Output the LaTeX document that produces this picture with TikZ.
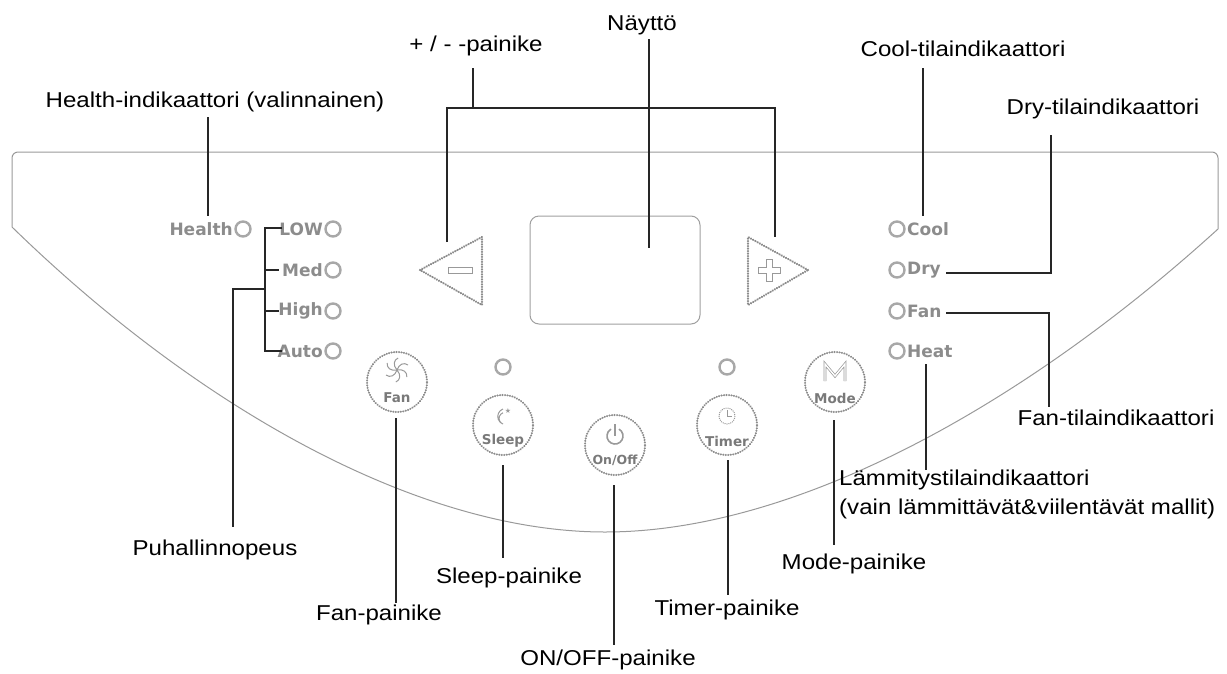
\documentclass[tikz,border=0pt]{standalone}
\usepackage{fontspec}
\setmainfont{Liberation Sans}[FakeStretch=1.12]
\newfontfamily\panelfont{DejaVu Sans}
\usetikzlibrary{calc}
\definecolor{pgray}{gray}{0.55}
\definecolor{lgray}{gray}{0.66}
\begin{document}
\begin{tikzpicture}[x=1pt,y=-1pt,
 lbl/.style={font=\fontsize{21.5}{29}\selectfont, inner sep=0pt, text=black},
 con/.style={draw=black!85, line width=1.8pt},
 outline/.style={draw=gray!80, line width=1pt},
 ind/.style={font=\panelfont\bfseries\fontsize{17}{19}\selectfont, text=pgray, inner sep=0pt},
 led/.style={circle, draw=lgray, line width=2.4pt, minimum size=15pt, inner sep=0pt},
 btn/.style={circle, draw=gray!90, line width=2.2pt, dash pattern=on 0.1pt off 2.4pt, line cap=round, minimum size=60pt, inner sep=0pt},
 dotline/.style={draw=gray!90, line width=2.4pt, dash pattern=on 0.1pt off 2.4pt, line cap=round},
 btntxt/.style={font=\panelfont\bfseries\fontsize{13.5}{15}\selectfont, text=gray!95!black, inner sep=0pt},
 icon/.style={draw=gray!80, line width=1pt}
]
\useasboundingbox (0,0) rectangle (1227,673);

% panel outline
\draw[outline] (12,227) [rounded corners=6pt]-- (12,152) -- (1218,152) [sharp corners]-- (1218,229)
  .. controls (1030,400) and (800,532) .. (605,532)
  .. controls (420,532) and (200,410) .. (12,227);

% display
\node[draw=gray!75, line width=1pt, rounded corners=9pt, minimum width=170pt, minimum height=108pt] (disp) at (615,270) {};

% + / - buttons
\draw[dotline] (420,270) -- (482,237) -- (482,305) -- cycle;
\draw[icon] (448,267) rectangle (472,273);
\draw[dotline] (808,270) -- (748,237) -- (748,305) -- cycle;
\draw[icon] (766,259) -- (772,259) -- (772,267) -- (780,267) -- (780,273) -- (772,273) -- (772,281) -- (766,281) -- (766,273) -- (758,273) -- (758,267) -- (766,267) -- cycle;
\coordinate (minusT) at (447,242);
\coordinate (plusT) at (775,237);

% left indicators
\node[ind, anchor=east] (health) at (233,229) {Health};
\node[led] (hled) at (243,229) {};
\node[ind, anchor=east] (low) at (323,229) {LOW};
\node[led] (lowled) at (333,229) {};
\node[ind, anchor=east] (med) at (323,270) {Med};
\node[led] (medled) at (333,270) {};
\node[ind, anchor=east] (high) at (323,311) {High};
\node[led] (highled) at (333,311) {};
\node[ind, anchor=east] (auto) at (323,351) {Auto};
\node[led] (autoled) at (333,351) {};

% right indicators
\node[led] (coolled) at (897,229) {};
\node[ind, anchor=west] (cool) at (907,229) {Cool};
\node[led] (dryled) at (897,270) {};
\node[ind, anchor=west] (dry) at (907,270) {Dry};
\node[led] (fanled) at (897,311) {};
\node[ind, anchor=west] (fanind) at (907,311) {Fan};
\node[led] (heatled) at (897,351) {};
\node[ind, anchor=west] (heat) at (907,351) {Heat};

% LEDs above sleep / timer
\node[led] (sleepled) at (503,367) {};
\node[led] (timerled) at (727,367) {};

% round buttons
\node[btn] (fanB) at (397,382) {};
\node[btntxt] (fanBt) at (397,398) {Fan};
\foreach \a in {0,60,...,300}
  \draw[icon, rotate around={\a:(397,370)}] (397,370) .. controls (399,364) and (404,362) .. (408,365);

\node[btn] (sleepB) at (503,425) {};
\node[btntxt] (sleepBt) at (503,441) {Sleep};
\draw[icon] (503,409) arc[start angle=-110, end angle=-250, radius=8] arc[start angle=-250, end angle=-110, radius=6];
\node[font=\panelfont\fontsize{7}{7}\selectfont, text=gray!80, inner sep=0pt] (star) at (508,411) {★};

\node[btn] (onoffB) at (615,445) {};
\node[btntxt, font=\panelfont\bfseries\fontsize{12.5}{14}\selectfont] (onoffBt) at (615,460) {On/Off};
\draw[icon, line width=1.6pt] (619,429.1) arc[start angle=-60, end angle=240, radius=8];
\draw[icon, line width=1.6pt] (615,424) -- (615,436);

\node[btn] (timerB) at (727,425) {};
\node[btntxt] (timerBt) at (727,441) {Timer};
\draw[icon, dash pattern=on 1pt off 1pt] (727,416) circle[radius=8];
\draw[icon] (727,416) -- (727,410) (727,416) -- (732,416);

\node[btn] (modeB) at (835,382) {};
\node[btntxt] (modeBt) at (835,398) {Mode};
\draw[gray!80, line width=0.7pt, double=white, double distance=1.4pt] (825,381) -- (825,364) -- (835,376) -- (845,364) -- (845,381);

% labels
\node[lbl] (lHealth) at (215,102) {Health-indikaattori (valinnainen)};
\node[lbl] (lPM) at (476,46) {+ / - -painike};
\node[lbl] (lNaytto) at (642,25) {Näyttö};
\node[lbl] (lCool) at (963,49) {Cool-tilaindikaattori};
\node[lbl] (lDry) at (1103,109) {Dry-tilaindikaattori};
\node[lbl] (lFanInd) at (1116,418) {Fan-tilaindikaattori};
\node[lbl, anchor=north west, align=left] (lHeat) at (839,470) {Lämmitystilaindikaattori\\(vain lämmittävät\&viilentävät mallit)};
\node[lbl] (lMode) at (854,564) {Mode-painike};
\node[lbl] (lTimer) at (727,610) {Timer-painike};
\node[lbl] (lOnOff) at (608,660) {ON/OFF-painike};
\node[lbl] (lSleep) at (509,578) {Sleep-painike};
\node[lbl] (lFanP) at (379,615) {Fan-painike};
\node[lbl] (lPuhal) at (215,550) {Puhallinnopeus};

% connector end points
\coordinate (hTop) at (208,117);
\coordinate (hBot) at (208,216);
\coordinate (pmTop) at (473,68);
\coordinate (pmJ) at (473,108);
\coordinate (bL) at (447,108);
\coordinate (bR) at (775,108);
\coordinate (nTop) at (649,39);
\coordinate (nBot) at (649,248);
\coordinate (cTop) at (923,68);
\coordinate (cBot) at (923,216);
\coordinate (dTop) at (1051,135);
\coordinate (dCorner) at (1051,273);
\coordinate (dEnd) at (946,273);
\coordinate (fStart) at (946,313);
\coordinate (fCorner) at (1049,313);
\coordinate (fEnd) at (1049,407);
\coordinate (htTop) at (926,364);
\coordinate (htBot) at (926,470);
\coordinate (sLow) at (282,228);
\coordinate (sLowC) at (265,228);
\coordinate (sAutoC) at (265,351);
\coordinate (sAuto) at (282,351);
\coordinate (sMedC) at (265,270);
\coordinate (sMed) at (279,270);
\coordinate (sHighC) at (265,311);
\coordinate (sHigh) at (279,311);
\coordinate (sJ) at (265,289);
\coordinate (sBend) at (233,289);
\coordinate (sEnd) at (233,527);
\coordinate (fpTop) at (396,418);
\coordinate (fpEnd) at (396,603);
\coordinate (slTop) at (503,465);
\coordinate (slEnd) at (503,558);
\coordinate (ooTop) at (614,485);
\coordinate (ooEnd) at (614,645);
\coordinate (tmTop) at (728,460);
\coordinate (tmEnd) at (728,595);
\coordinate (mdTop) at (834,420);
\coordinate (mdEnd) at (834,545);

% connectors
\draw[con] (hTop) -- (hBot);
\draw[con] (pmTop) -- (pmJ);
\draw[con] (minusT) -- (bL) -- (bR) -- (plusT);
\draw[con] (nTop) -- (nBot);
\draw[con] (cTop) -- (cBot);
\draw[con] (dTop) -- (dCorner) -- (dEnd);
\draw[con] (fStart) -- (fCorner) -- (fEnd);
\draw[con] (htTop) -- (htBot);
\draw[con] (sLow) -- (sLowC) -- (sAutoC) -- (sAuto);
\draw[con] (sMedC) -- (sMed);
\draw[con] (sHighC) -- (sHigh);
\draw[con] (sJ) -- (sBend) -- (sEnd);
\draw[con] (fpTop) -- (fpEnd);
\draw[con] (slTop) -- (slEnd);
\draw[con] (ooTop) -- (ooEnd);
\draw[con] (tmTop) -- (tmEnd);
\draw[con] (mdTop) -- (mdEnd);
\end{tikzpicture}
\end{document}
